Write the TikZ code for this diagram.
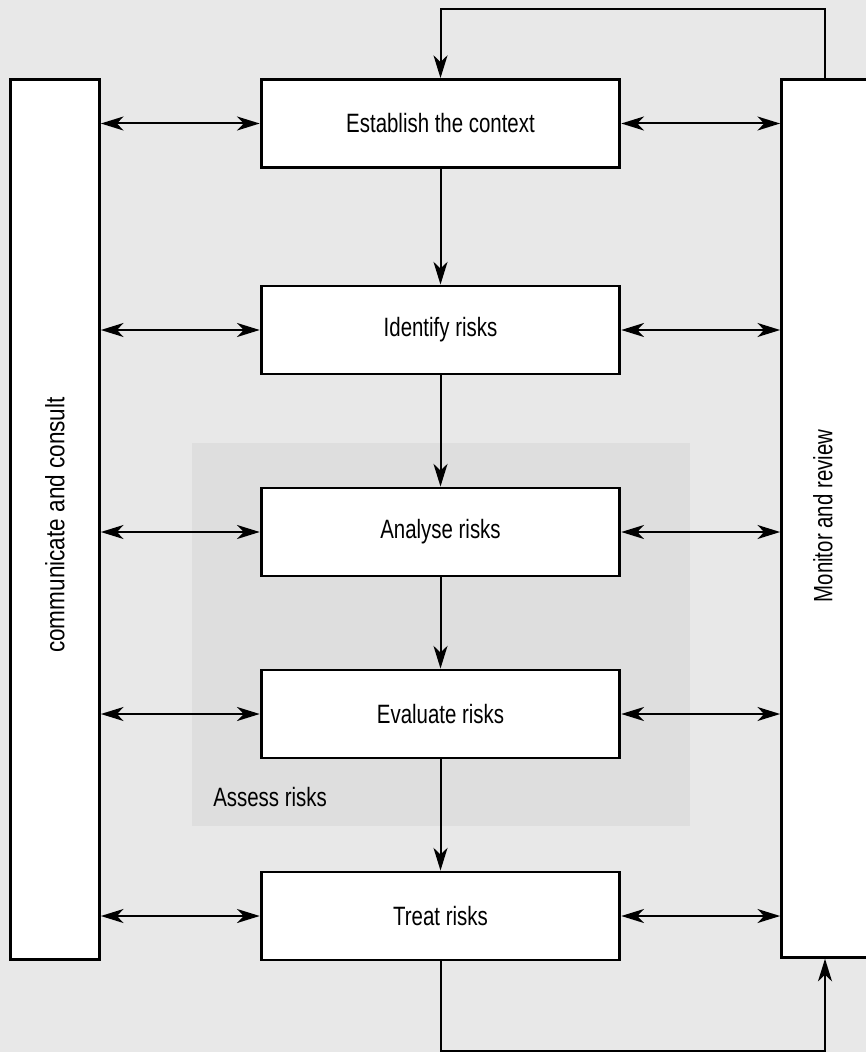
\documentclass[tikz,border=0pt]{standalone}
\usepackage{fontspec}
\setmainfont{Liberation Sans}[FakeStretch=0.77]
\newfontfamily\sidefont{Liberation Sans}[FakeStretch=0.85]
\usetikzlibrary{arrows.meta}
\definecolor{bgcol}{HTML}{E8E8E8}
\definecolor{assesscol}{HTML}{DEDEDE}
\begin{document}
\begin{tikzpicture}[x=0.75pt,y=-0.75pt,
  txt/.style={font=\fontsize{19.9}{22}\selectfont},
  stepbox/.style={draw, line width=2.2pt, fill=white, minimum width=269pt, minimum height=66pt, inner sep=0pt, txt},
  sidebox/.style={draw, line width=1.8pt, fill=white, inner sep=0pt},
  conn/.style={line width=1.5pt},
  biarrow/.style={conn, {Stealth[length=17pt,width=10.5pt,inset=5pt]}-{Stealth[length=17pt,width=10.5pt,inset=5pt]}},
  arr/.style={conn, -{Stealth[length=17pt,width=10.5pt,inset=5pt]}}]
\fill[bgcol] (0,0) rectangle (866,1052);
\useasboundingbox (0,0) rectangle (866,1052);
\fill[assesscol] (192,443) rectangle (690,826);
\node[txt, anchor=base west, inner sep=0pt] (assess) at (213,806) {Assess risks};
% side boxes
\node[sidebox, minimum width=67pt, minimum height=660pt] (lb) at (55,519.5) {};
\node[rotate=90, font=\sidefont\fontsize{19.9}{22}\selectfont] (lbl) at (55,525) {communicate and consult};
\node[sidebox, minimum width=67pt, minimum height=658.5pt] (rb) at (826,518.5) {};
\node[txt, rotate=90] (rbl) at (823,516) {Monitor and review};
% step boxes
\node[stepbox] (est) at (440.5,123.5) {Establish the context};
\node[stepbox] (idf) at (440.5,330) {Identify risks};
\node[stepbox] (ana) at (440.5,532) {Analyse risks};
\node[stepbox] (eva) at (440.5,714) {Evaluate risks};
\node[stepbox] (trt) at (440.5,916) {Treat risks};
% vertical flow
\draw[arr] (est) -- (idf);
\draw[arr] (idf) -- (ana);
\draw[arr] (ana) -- (eva);
\draw[arr] (eva) -- (trt);
% horizontal two-way arrows
\foreach \n in {est,idf,ana,eva,trt}{
  \draw[biarrow] (\n.west -| lb.east) -- (\n.west);
  \draw[biarrow] (\n.east) -- (\n.east -| rb.west);
}
% feedback loops
\coordinate (tr) at (825,9);
\coordinate (tl) at (440.5,9);
\draw[arr] (rb.north -| tr) -- (tr) -- (tl) -- (est.north);
\coordinate (bl) at (440.5,1051);
\coordinate (br) at (825,1051);
\draw[arr] (trt.south) -- (bl) -- (br) -- (br |- rb.south);
\end{tikzpicture}
\end{document}
